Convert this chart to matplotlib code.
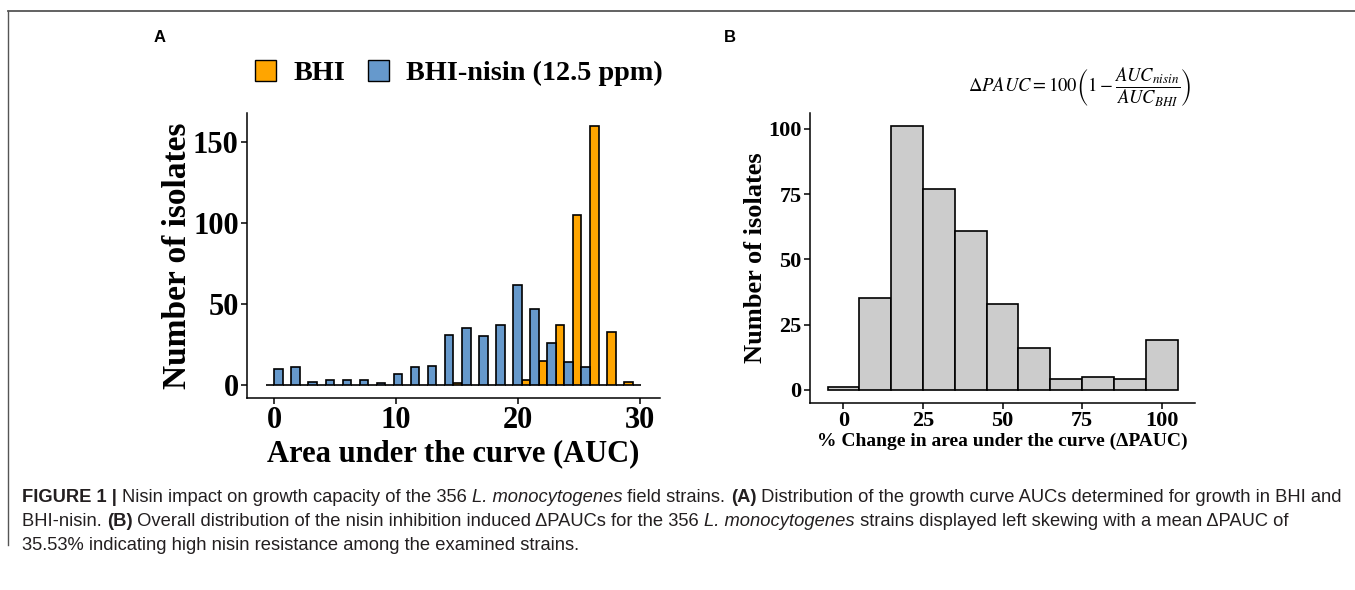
import matplotlib
matplotlib.use("Agg")
import matplotlib.pyplot as plt
from matplotlib.patches import Patch
from matplotlib.lines import Line2D

# Panel A: AUC histogram (bin centres, counts per medium)
auc_bins = [0.0, 1.4, 2.8, 4.2, 5.6, 7.0, 8.4, 9.8, 11.2, 12.6, 14.0,
            15.4, 16.8, 18.2, 19.6, 21.0, 22.4, 23.8, 25.2, 26.6, 28.0, 29.4]
bhi_counts = [0, 0, 0, 0, 0, 0, 0, 0, 0, 0, 0,
              1, 0, 0, 0, 3, 15, 37, 105, 160, 33, 2]
nisin_counts = [10, 11, 2, 3, 3, 3, 1, 7, 11, 12, 31,
                35, 30, 37, 62, 47, 26, 14, 11, 0, 0, 0]
auc_ticks = [0, 10, 20, 30]
count_ticks_a = [0, 50, 100, 150]

# Panel B: delta PAUC histogram
pauc_bins = [0, 10, 20, 30, 40, 50, 60, 70, 80, 90, 100]
pauc_counts = [1, 35, 101, 77, 61, 33, 16, 4, 5, 4, 19]
pauc_ticks = [0, 25, 50, 75, 100]
count_ticks_b = [0, 25, 50, 75, 100]

ORANGE = "#FFA500"
BLUE = "#6699CC"
GREY = "#CCCCCC"
SERIF = "Liberation Serif"

plt.rcParams["mathtext.fontset"] = "stix"

W, H = 1355, 590
fig = plt.figure(figsize=(W / 100, H / 100), dpi=100)


def px_axes(l, t, r, b):
    return fig.add_axes([l / W, 1 - b / H, (r - l) / W, (b - t) / H])


def classic(ax, tick_size):
    for s in ["top", "right"]:
        ax.spines[s].set_visible(False)
    for s in ["left", "bottom"]:
        ax.spines[s].set_linewidth(1.1)
    ax.tick_params(direction="out", length=4, width=1.1, pad=2,
                   labelsize=tick_size)
    for lab in ax.get_xticklabels() + ax.get_yticklabels():
        lab.set_fontfamily(SERIF)
        lab.set_fontweight("bold")


# ---- Panel A
ax = px_axes(247, 113, 660, 398)
bw = 1.4
ax.bar([c - bw / 4 for c in auc_bins], bhi_counts, width=bw / 2,
       color=ORANGE, edgecolor="black", linewidth=1.2)
ax.bar([c + bw / 4 for c in auc_bins], nisin_counts, width=bw / 2,
       color=BLUE, edgecolor="black", linewidth=1.2)
ax.set_xlim(-2.24, 31.64)
ax.set_ylim(-8, 168)
ax.set_xticks(auc_ticks)
ax.set_yticks(count_ticks_a)
classic(ax, 22)
ax.set_xlabel("Area under the curve (AUC)", fontfamily=SERIF,
              fontweight="bold", fontsize=22, labelpad=3)
ax.set_ylabel("Number of isolates", fontfamily=SERIF,
              fontweight="bold", fontsize=24, labelpad=0)

handles = [Patch(facecolor=ORANGE, edgecolor="black", linewidth=1.0),
           Patch(facecolor=BLUE, edgecolor="black", linewidth=1.0)]
fig.legend(handles, ["BHI", "BHI-nisin (12.5 ppm)"], loc="center",
           bbox_to_anchor=(459 / W, 1 - 73 / H), ncol=2, frameon=False,
           prop={"family": SERIF, "weight": "bold", "size": 20.3},
           handlelength=0.75, handleheight=0.75, handletextpad=0.6,
           columnspacing=0.8)

# ---- Panel B
bx = px_axes(810, 113, 1195, 403)
bx.bar(pauc_bins, pauc_counts, width=10, color=GREY, edgecolor="black",
       linewidth=1.2)
bx.set_xlim(-10.5, 110.5)
bx.set_ylim(-5.05, 106.05)
bx.set_xticks(pauc_ticks)
bx.set_yticks(count_ticks_b)
classic(bx, 16)
bx.set_xlabel("% Change in area under the curve (\u0394PAUC)",
              fontfamily=SERIF, fontweight="bold", fontsize=14, labelpad=1)
bx.set_ylabel("Number of isolates", fontfamily=SERIF, fontweight="bold",
              fontsize=19, labelpad=1)

fig.text(1080 / W, 1 - 87 / H,
         r"$\Delta PAUC = 100\left(1 - \dfrac{AUC_{nisin}}{AUC_{BHI}}\right)$",
         ha="center", va="center", fontsize=13.4)

# panel letters
fig.text(160 / W, 1 - 38 / H, "A", fontfamily="Liberation Sans",
         fontweight="bold", fontsize=12, ha="center", va="center")
fig.text(730 / W, 1 - 38 / H, "B", fontfamily="Liberation Sans",
         fontweight="bold", fontsize=12, ha="center", va="center")

# frame lines
fig.add_artist(Line2D([8 / W, 1], [1 - 11 / H, 1 - 11 / H],
                      transform=fig.transFigure, color="#555555", lw=1.3))
fig.add_artist(Line2D([8 / W, 8 / W], [1 - 11 / H, 1 - 545 / H],
                      transform=fig.transFigure, color="#555555", lw=1.0))

# ---- caption, drawn piece by piece
CAP_FAMILY = ["Liberation Sans Narrow", "Liberation Sans"]
cap_lines = [
    [("FIGURE 1 | ", "bold", "normal"),
     ("Nisin impact on growth capacity of the 356 ", "normal", "normal"),
     ("L. monocytogenes", "normal", "italic"),
     (" field strains. ", "normal", "normal"),
     ("(A)", "bold", "normal"),
     (" Distribution of the growth curve AUCs determined for growth in BHI and",
      "normal", "normal")],
    [("BHI-nisin. ", "normal", "normal"),
     ("(B)", "bold", "normal"),
     (" Overall distribution of the nisin inhibition induced \u0394PAUCs for the 356 ",
      "normal", "normal"),
     ("L. monocytogenes", "normal", "italic"),
     (" strains displayed left skewing with a mean \u0394PAUC of",
      "normal", "normal")],
    [("35.53% indicating high nisin resistance among the examined strains.",
      "normal", "normal")],
]
cap_y = [497, 521, 545]
renderer = fig.canvas.get_renderer()


def draw_line(pieces, x0, y, size, keep=True):
    x = x0
    made = []
    for txt, wt, st in pieces:
        t = fig.text(x / W, 1 - y / H, txt, fontfamily=CAP_FAMILY,
                     fontweight=wt, fontstyle=st, fontsize=size,
                     color="#231F20", va="center", ha="left")
        bb = t.get_window_extent(renderer)
        x += bb.width
        made.append(t)
    if not keep:
        for t in made:
            t.remove()
    return x - x0


w0 = draw_line(cap_lines[0], 22, cap_y[0], 10, keep=False)
cap_size = 10 * (1345 - 22) / w0
for pieces, y in zip(cap_lines, cap_y):
    draw_line(pieces, 22, y, cap_size)

fig.savefig("out.png", dpi=100)
